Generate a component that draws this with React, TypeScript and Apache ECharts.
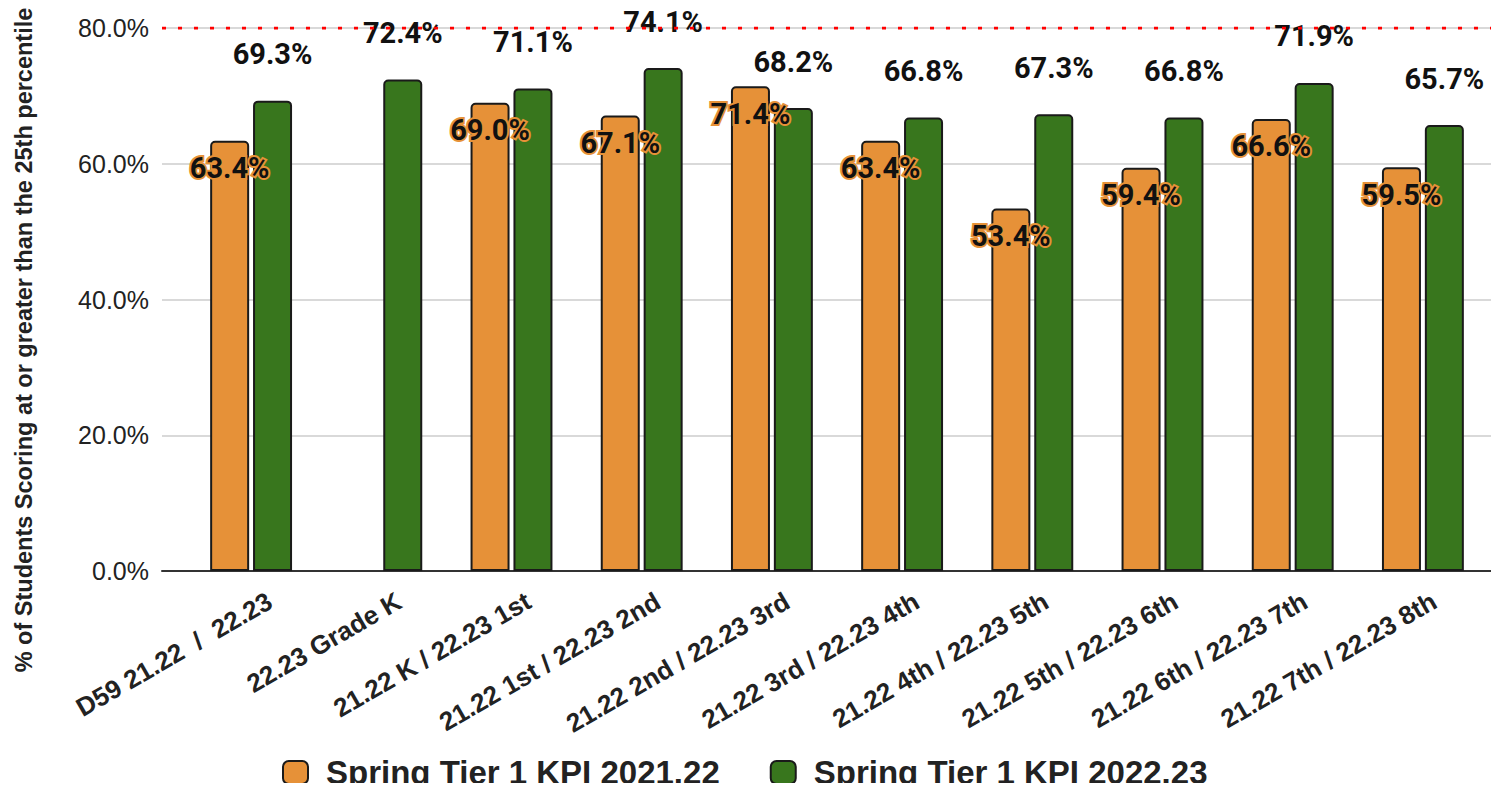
import React, { useEffect, useRef } from "react";
import * as echarts from "echarts";

const categories = [
  "D59 21.22  /  22.23",
  "22.23 Grade K",
  "21.22 K / 22.23 1st",
  "21.22 1st / 22.23 2nd",
  "21.22 2nd / 22.23 3rd",
  "21.22 3rd / 22.23 4th",
  "21.22 4th / 22.23 5th",
  "21.22 5th / 22.23 6th",
  "21.22 6th / 22.23 7th",
  "21.22 7th / 22.23 8th",
];
const series2122: (number | null)[] = [63.4, null, 69.0, 67.1, 71.4, 63.4, 53.4, 59.4, 66.6, 59.5];
const series2223: number[] = [69.3, 72.4, 71.1, 74.1, 68.2, 66.8, 67.3, 66.8, 71.9, 65.7];
const seriesNames = ["Spring Tier 1 KPI 2021.22", "Spring Tier 1 KPI 2022.23"];
const targetValue = 80;
const yTicks = { min: 0, max: 80, interval: 20 };
const yTitle = "% of Students Scoring at or greater than the 25th percentile";

const ORANGE = "#E69138";
const GREEN = "#38761D";
const AXIS_FONT = "'Liberation Sans', Arial, sans-serif";
const LABEL_FONT = "Roboto, 'Liberation Sans', sans-serif";

export default function App() {
  const ref = useRef<HTMLDivElement>(null);
  useEffect(() => {
    if (!ref.current) return;
    const chart = echarts.init(ref.current, undefined, { renderer: "svg" });
    const top = 28;
    const bottom = 220;
    chart.setOption({
      animation: false,
      backgroundColor: "#ffffff",
      grid: [
        { left: 186, right: 11, top, bottom },
        { left: 162, right: 0, top, bottom },
        { left: 205, right: -8, top, bottom },
      ],
      xAxis: [
        {
          type: "category",
          gridIndex: 0,
          data: categories,
          axisLine: { show: false },
          axisTick: { show: false },
          axisLabel: { show: false },
        },
        {
          type: "value",
          gridIndex: 1,
          min: 0,
          max: 1,
          axisLine: { show: true, onZero: false, lineStyle: { color: "#333", width: 2 } },
          axisTick: { show: false },
          axisLabel: { show: false },
          splitLine: { show: false },
        },
        {
          type: "category",
          gridIndex: 2,
          data: categories,
          axisLine: { show: false },
          axisTick: { show: false },
          axisLabel: {
            rotate: 30,
            margin: 28,
            fontFamily: AXIS_FONT,
            fontWeight: "bold",
            fontSize: 26,
            color: "#222",
            interval: 0,
          },
        },
      ],
      yAxis: [
        { type: "value", gridIndex: 0, ...yTicks, show: false },
        {
          type: "value",
          gridIndex: 1,
          ...yTicks,
          axisLine: { show: false },
          axisTick: { show: false },
          splitLine: { show: true, lineStyle: { color: "#cccccc", width: 1.5 } },
          axisLabel: {
            margin: 13,
            fontFamily: AXIS_FONT,
            fontSize: 25,
            color: "#222",
            formatter: (v: number) => v.toFixed(1) + "%",
          },
        },
        { type: "value", gridIndex: 2, ...yTicks, show: false },
      ],
      legend: {
        data: seriesNames,
        left: 282,
        top: 756,
        padding: 0,
        icon: "roundRect",
        itemWidth: 25,
        itemHeight: 23,
        itemGap: 50,
        textStyle: {
          fontFamily: AXIS_FONT,
          fontWeight: "bold",
          fontSize: 33,
          lineHeight: 33,
          color: "#222",
          padding: [0, 0, 0, 13],
        },
      },
      graphic: [
        {
          type: "text",
          x: 24,
          y: 340,
          rotation: Math.PI / 2,
          style: {
            text: yTitle,
            fontFamily: AXIS_FONT,
            fontWeight: "bold",
            fontSize: 23.5,
            fill: "#222",
            align: "center",
            verticalAlign: "middle",
          },
        },
      ],
      series: [
        {
          type: "line",
          xAxisIndex: 1,
          yAxisIndex: 1,
          data: [
            [0, targetValue],
            [1, targetValue],
          ],
          symbol: "none",
          silent: true,
          z: 5,
          lineStyle: { color: "#ff0000", width: 3, type: [4, 12], cap: "butt" },
        },
        {
          name: seriesNames[0],
          type: "bar",
          xAxisIndex: 0,
          yAxisIndex: 0,
          data: series2122,
          barWidth: 39,
          barGap: "10%",
          itemStyle: {
            color: ORANGE,
            borderColor: "#1a1a1a",
            borderWidth: 2,
            borderRadius: [4, 4, 0, 0],
          },
          label: {
            show: true,
            position: "insideTop",
            distance: 13,
            formatter: (p: any) => p.value.toFixed(1) + "%",
            fontFamily: LABEL_FONT,
            fontWeight: "bold",
            fontSize: 29,
            color: "#111",
            textBorderColor: ORANGE,
            textBorderWidth: 4,
          },
          z: 3,
        },
        {
          name: seriesNames[1],
          type: "bar",
          xAxisIndex: 0,
          yAxisIndex: 0,
          data: series2223,
          barWidth: 39,
          barGap: "10%",
          itemStyle: {
            color: GREEN,
            borderColor: "#1a1a1a",
            borderWidth: 2,
            borderRadius: [4, 4, 0, 0],
          },
          label: {
            show: true,
            position: "top",
            distance: 32,
            formatter: (p: any) => p.value.toFixed(1) + "%",
            fontFamily: LABEL_FONT,
            fontWeight: "bold",
            fontSize: 29,
            color: "#111",
          },
          z: 2,
        },
      ],
    });
    return () => chart.dispose();
  }, []);
  return <div ref={ref} style={{ width: 1499, height: 791, margin: -8 }} />;
}
